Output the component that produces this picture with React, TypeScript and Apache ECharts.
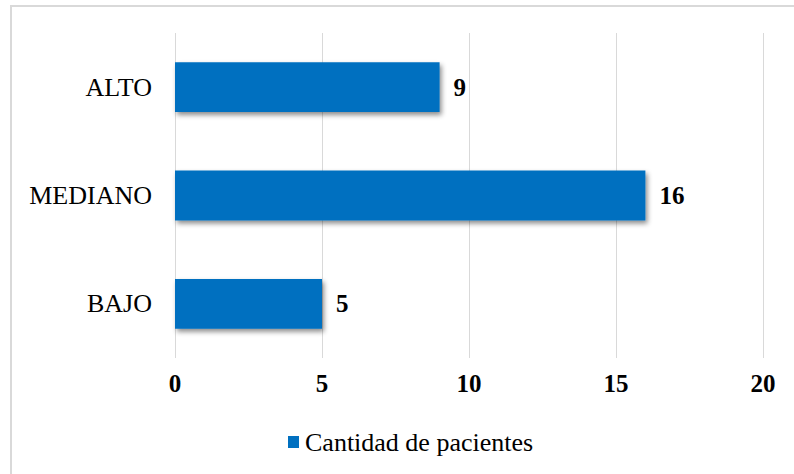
import React, { useEffect, useRef } from "react";
import * as echarts from "echarts";

const categories = ["BAJO", "MEDIANO", "ALTO"];
const values = [5, 16, 9];
const seriesName = "Cantidad de pacientes";
const xMin = 0;
const xMax = 20;
const xStep = 5;

const BAR_COLOR = "#0070C0";

export default function App() {
  const ref = useRef<HTMLDivElement>(null);
  useEffect(() => {
    if (!ref.current) return;
    const chart = echarts.init(ref.current, null, { renderer: "svg" });
    const font = "Liberation Serif";
    chart.setOption({
      animation: false,
      backgroundColor: "#ffffff",
      textStyle: { fontFamily: font },
      graphic: [
        {
          type: "rect",
          shape: { x: 11, y: 6, width: 820, height: 500 },
          style: { fill: "none", stroke: "#d9d9d9", lineWidth: 2 },
          silent: true,
        },
      ],
      grid: { left: 175, right: 31, top: 33, bottom: 116 },
      legend: {
        data: [seriesName],
        left: 283,
        top: 424,
        icon: "rect",
        itemWidth: 11,
        itemHeight: 12,
        itemGap: 6,
        textStyle: { fontFamily: font, fontSize: 26, color: "#000", padding: [0, 0, 0, 1] },
      },
      xAxis: {
        type: "value",
        min: xMin,
        max: xMax,
        interval: xStep,
        axisLine: { show: false },
        axisTick: { show: false },
        splitLine: { lineStyle: { color: "#d9d9d9", width: 1 } },
        axisLabel: {
          fontFamily: font,
          fontSize: 25,
          fontWeight: "bold",
          color: "#000",
          margin: 13,
        },
      },
      yAxis: {
        type: "category",
        data: categories,
        axisLine: { show: false },
        axisTick: { show: false },
        axisLabel: {
          fontFamily: font,
          fontSize: 26,
          color: "#000",
          margin: 23,
        },
      },
      series: [
        {
          name: seriesName,
          type: "bar",
          data: values,
          barCategoryGap: "54%",
          itemStyle: {
            color: BAR_COLOR,
            shadowColor: "rgba(0,0,0,0.45)",
            shadowBlur: 5,
            shadowOffsetX: 2,
            shadowOffsetY: 3,
          },
          label: {
            show: true,
            position: "right",
            distance: 14,
            fontFamily: font,
            fontSize: 25,
            fontWeight: "bold",
            color: "#000",
          },
        },
      ],
    });
    return () => chart.dispose();
  }, []);
  return (
    <div
      ref={ref}
      style={{ position: "fixed", left: 0, top: 0, width: 794, height: 474 }}
    />
  );
}
